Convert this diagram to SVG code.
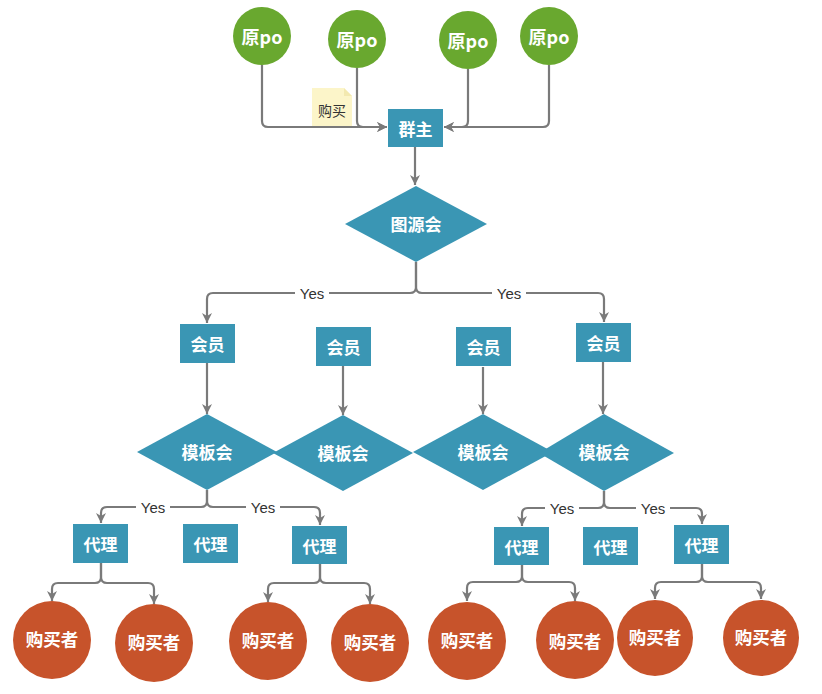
<svg xmlns="http://www.w3.org/2000/svg" width="822" height="694" viewBox="0 0 822 694">
<defs>
<marker id="arr" markerWidth="12" markerHeight="12" refX="10" refY="6" orient="auto" markerUnits="userSpaceOnUse">
<path d="M0,1 L10,6 L0,11 L3,6 Z" fill="#7a7a7a"/>
</marker>
</defs>
<style>
.box{fill:#3a96b4}
.dia{fill:#3a96b4}
.g{fill:#69a82f}
.o{fill:#c7532b}
.t{font-family:"Noto Sans CJK SC","Liberation Sans",sans-serif;font-weight:bold;fill:#fff;font-size:17px;text-anchor:middle;dominant-baseline:central}
.tb{font-family:"Noto Sans CJK SC","Liberation Sans",sans-serif;font-weight:bold;fill:#fff;font-size:17.5px;text-anchor:middle;dominant-baseline:central}
.tp{font-family:"Noto Sans CJK SC","Liberation Sans",sans-serif;font-weight:bold;fill:#fff;font-size:18px;text-anchor:middle;dominant-baseline:central}
.c{fill:none;stroke:#7a7a7a;stroke-width:2.2;marker-end:url(#arr)}
.lbg{fill:#fff}
.lt{font-family:"Liberation Sans","Noto Sans",sans-serif;font-size:15px;fill:#333;text-anchor:middle;dominant-baseline:central}
.nt{font-family:"Noto Sans CJK SC",sans-serif;font-size:14px;fill:#333;text-anchor:middle;dominant-baseline:central}
</style>
<rect width="822" height="694" fill="#fff"/>

<g id="note">
<path d="M312,88 H344 L352,96 V126 H312 Z" fill="#fcf5c9"/>
<path d="M344,88 V96 H352" fill="#f3e9b0"/>
<text class="nt" x="332" y="110">购买</text>
</g>

<g id="connectors">
<path class="c" d="M262,65 V121 Q262,127 268,127 H387"/>
<path class="c" d="M357,68 V121 Q357,127 363,127 H387"/>
<path class="c" d="M468,69 V121 Q468,127 462,127 H444"/>
<path class="c" d="M549,65 V121 Q549,127 543,127 H444"/>
<path class="c" d="M415,147 V185"/>
<path class="c" d="M416,262 V287 Q416,293 410,293 H213 Q207,293 207,299 V323"/>
<path class="c" d="M416,262 V287 Q416,293 422,293 H598 Q604,293 604,299 V322"/>
<path class="c" d="M207,363 V414"/>
<path class="c" d="M343,366 V415"/>
<path class="c" d="M483,367 V414"/>
<path class="c" d="M603,362 V414"/>
<path class="c" d="M207,490 V501 Q207,507 201,507 H107 Q101,507 101,513 V523"/>
<path class="c" d="M207,490 V501 Q207,507 213,507 H314 Q320,507 320,513 V525"/>
<path class="c" d="M604,491 V502 Q604,508 598,508 H528 Q522,508 522,514 V526"/>
<path class="c" d="M604,491 V502 Q604,508 610,508 H696 Q702,508 702,514 V524"/>
<path class="c" d="M101,563 V577 Q101,583 95,583 H58 Q52,583 52,589 V601"/>
<path class="c" d="M101,563 V577 Q101,583 107,583 H148 Q154,583 154,589 V604"/>
<path class="c" d="M320,564 V577 Q320,583 314,583 H274 Q268,583 268,589 V602"/>
<path class="c" d="M320,564 V577 Q320,583 326,583 H364 Q370,583 370,589 V604"/>
<path class="c" d="M522,565 V576 Q522,582 516,582 H473 Q467,582 467,588 V601"/>
<path class="c" d="M522,565 V576 Q522,582 528,582 H569 Q575,582 575,588 V601"/>
<path class="c" d="M702,564 V576 Q702,582 696,582 H661 Q655,582 655,588 V599"/>
<path class="c" d="M702,564 V576 Q702,582 708,582 H755 Q761,582 761,588 V599"/>
<rect class="lbg" x="295" y="284" width="34" height="18"/>
<text class="lt" x="312" y="293">Yes</text>
<rect class="lbg" x="492" y="284" width="34" height="18"/>
<text class="lt" x="509" y="293">Yes</text>
<rect class="lbg" x="136" y="498" width="34" height="18"/>
<text class="lt" x="153" y="507">Yes</text>
<rect class="lbg" x="246" y="498" width="34" height="18"/>
<text class="lt" x="263" y="507">Yes</text>
<rect class="lbg" x="545" y="499" width="34" height="18"/>
<text class="lt" x="562" y="508">Yes</text>
<rect class="lbg" x="636" y="499" width="34" height="18"/>
<text class="lt" x="653" y="508">Yes</text>
</g>

<g id="po1"><circle class="g" cx="262" cy="36" r="29"/><text class="tp" x="262" y="36">原po</text></g>
<g id="po2"><circle class="g" cx="357" cy="39" r="29"/><text class="tp" x="357" y="39">原po</text></g>
<g id="po3"><circle class="g" cx="468" cy="40" r="29"/><text class="tp" x="468" y="40">原po</text></g>
<g id="po4"><circle class="g" cx="549" cy="36" r="29"/><text class="tp" x="549" y="36">原po</text></g>

<g id="qunzhu"><rect class="box" x="388" y="109" width="55" height="38"/><text class="t" x="415.5" y="128">群主</text></g>

<g id="tuyuanhui"><path class="dia" d="M416,186 L487,224 L416,262 L345,224 Z"/><text class="t" x="416" y="223">图源会</text></g>

<g id="huiyuan1"><rect class="box" x="180" y="324" width="55" height="39"/><text class="t" x="207.5" y="343">会员</text></g>
<g id="huiyuan2"><rect class="box" x="316" y="327" width="55" height="39"/><text class="t" x="343.5" y="346">会员</text></g>
<g id="huiyuan3"><rect class="box" x="456" y="327" width="55" height="39"/><text class="t" x="483.5" y="346">会员</text></g>
<g id="huiyuan4"><rect class="box" x="576" y="323" width="55" height="39"/><text class="t" x="603.5" y="342">会员</text></g>

<g id="muban1"><path class="dia" d="M207,414 L277,452 L207,490 L137,452 Z"/><text class="t" x="207" y="451">模板会</text></g>
<g id="muban2"><path class="dia" d="M343,415 L413,453 L343,491 L273,453 Z"/><text class="t" x="343" y="452">模板会</text></g>
<g id="muban3"><path class="dia" d="M483,414 L553,452 L483,490 L413,452 Z"/><text class="t" x="483" y="451">模板会</text></g>
<g id="muban4"><path class="dia" d="M604,414 L674,453 L604,491 L539,453 Z"/><text class="t" x="604" y="451">模板会</text></g>

<g id="daili1"><rect class="box" x="73" y="524" width="55" height="39"/><text class="t" x="100.5" y="543">代理</text></g>
<g id="daili2"><rect class="box" x="183" y="524" width="55" height="39"/><text class="t" x="210.5" y="543">代理</text></g>
<g id="daili3"><rect class="box" x="292" y="526" width="55" height="38"/><text class="t" x="319.5" y="545">代理</text></g>
<g id="daili4"><rect class="box" x="494" y="527" width="55" height="38"/><text class="t" x="521.5" y="546">代理</text></g>
<g id="daili5"><rect class="box" x="583" y="527" width="55" height="38"/><text class="t" x="610.5" y="546">代理</text></g>
<g id="daili6"><rect class="box" x="674" y="525" width="55" height="39"/><text class="t" x="701.5" y="544">代理</text></g>

<g id="buyer1"><circle class="o" cx="52" cy="640" r="39"/><text class="tb" x="52" y="638">购买者</text></g>
<g id="buyer2"><circle class="o" cx="154" cy="643" r="39"/><text class="tb" x="154" y="641">购买者</text></g>
<g id="buyer3"><circle class="o" cx="268" cy="641" r="39"/><text class="tb" x="268" y="639">购买者</text></g>
<g id="buyer4"><circle class="o" cx="370" cy="643" r="39"/><text class="tb" x="370" y="641">购买者</text></g>
<g id="buyer5"><circle class="o" cx="467" cy="641" r="39"/><text class="tb" x="467" y="639">购买者</text></g>
<g id="buyer6"><circle class="o" cx="575" cy="640" r="39"/><text class="tb" x="575" y="640">购买者</text></g>
<g id="buyer7"><circle class="o" cx="655" cy="638" r="38"/><text class="tb" x="655" y="636">购买者</text></g>
<g id="buyer8"><circle class="o" cx="761" cy="638" r="38"/><text class="tb" x="761" y="636">购买者</text></g>
</svg>
